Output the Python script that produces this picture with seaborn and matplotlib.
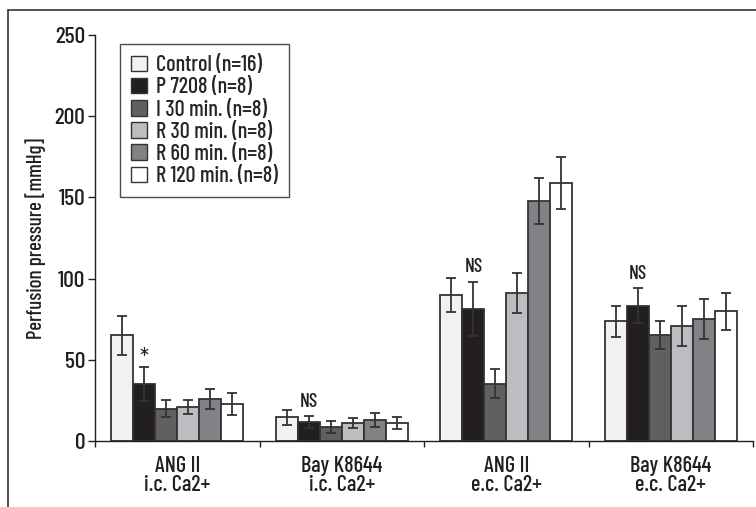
import matplotlib
matplotlib.use("Agg")
import matplotlib.pyplot as plt
import seaborn as sns
import pandas as pd
from matplotlib.lines import Line2D

# ---- data ----
groups = ["ANG II\ni.c. Ca2+", "Bay K8644\ni.c. Ca2+", "ANG II\ne.c. Ca2+", "Bay K8644\ne.c. Ca2+"]
series = ["Control (n=16)", "P 7208 (n=8)", "I 30 min. (n=8)", "R 30 min. (n=8)",
          "R 60 min. (n=8)", "R 120 min. (n=8)"]
control = [65, 14.6, 90, 73.7]
p7208 = [35.3, 11.7, 81.3, 83.3]
i30 = [20, 8.6, 35.3, 65.3]
r30 = [21, 10.9, 91.3, 71]
r60 = [26, 12.7, 147.8, 75.1]
r120 = [22.8, 10.9, 159, 79.9]
control_err = [12, 4.7, 10.5, 9.6]
p7208_err = [10.5, 3.5, 16.8, 10.7]
i30_err = [5.2, 3.5, 8.8, 8.8]
r30_err = [4.2, 3.1, 12.3, 12.3]
r60_err = [6.3, 4.3, 14, 12.2]
r120_err = [7, 3.7, 16, 11.4]
annotations = ["*", "NS", "NS", "NS"]   # above P 7208 bar in each group

colors = ["#f0f1f3", "#231f20", "#606062", "#bcbdc0", "#818285", "#ffffff"]

values = [control, p7208, i30, r30, r60, r120]
errors = [control_err, p7208_err, i30_err, r30_err, r60_err, r120_err]

rows = []
for s, vals in zip(series, values):
    for g, v in zip(groups, vals):
        rows.append({"group": g, "series": s, "value": v})
df = pd.DataFrame(rows)

sns.set_theme(style="white")
plt.rcParams['font.family'] = ['Barlow Condensed', 'DejaVu Sans']
plt.rcParams['font.weight'] = 'medium'
plt.rcParams['axes.labelweight'] = 'medium'

fig = plt.figure(figsize=(7.56, 5.07), dpi=100)
ax = fig.add_axes([95 / 756, 1 - 441 / 507, (753 - 95) / 756, (441 - 35) / 507])

sns.barplot(data=df, x="group", y="value", hue="series", order=groups, hue_order=series,
            palette=colors, edgecolor="#333333", linewidth=1.3, width=0.8, ax=ax,
            errorbar=None, saturation=1, legend=True)

edge = "#333333"
for cont, errs in zip(ax.containers, errors):
    xs = [b.get_x() + b.get_width() / 2 for b in cont]
    hs = [b.get_height() for b in cont]
    ax.errorbar(xs, hs, yerr=errs, fmt="none", ecolor=edge, elinewidth=1.3,
                capsize=3.3, capthick=1.3, zorder=5)

# annotations above P 7208 bars
pcont = ax.containers[1]
for b, v, e, txt in zip(pcont, p7208, p7208_err, annotations):
    x = b.get_x() + b.get_width() / 2
    off = -3 if txt == "*" else 4
    ax.annotate(txt, xy=(x, v + e), xytext=(0, off), textcoords="offset points",
                ha="center", va="bottom", fontsize=18 if txt == "*" else 14,
                fontweight="normal" if txt == "*" else "medium", color="#231f20")

ax.set_ylim(0, 250)
ax.set_xlim(-0.5, 3.5)
ax.set_yticks([0, 50, 100, 150, 200, 250])
ax.tick_params(axis="y", labelsize=17, length=5, width=1, direction="out", left=True,
               colors="#231f20", pad=2)
ax.set_xticks([-0.5, 0.5, 1.5, 2.5, 3.5])
ax.set_xticklabels([])
ax.set_xticks(range(len(groups)), minor=True)
ax.set_xticklabels(groups, minor=True, fontsize=16, linespacing=0.95, color="#231f20")
ax.tick_params(axis="x", which="major", length=4, width=1, direction="out", bottom=True,
               colors="#231f20")
ax.tick_params(axis="x", which="minor", length=0, pad=11)
ax.set_xlabel("")
ax.set_ylabel("Perfusion pressure [mmHg]", fontsize=15, fontweight="medium",
              color="#231f20", labelpad=6)

for side in ["top", "right"]:
    ax.spines[side].set_visible(False)
for side in ["left", "bottom"]:
    ax.spines[side].set_color("#231f20")
    ax.spines[side].set_linewidth(1.0)

leg = ax.legend(loc="upper left", bbox_to_anchor=((120 - 95) / 658, 1 - (44 - 35) / 406),
                frameon=True, fontsize=16, handlelength=0.7, handleheight=0.7,
                handletextpad=0.4, labelspacing=0.1, borderpad=0.5, fancybox=False,
                borderaxespad=0)
leg.get_frame().set_edgecolor("#231f20")
leg.get_frame().set_linewidth(1.0)
for h in leg.legend_handles:
    h.set_edgecolor("#333333")
    h.set_linewidth(1.0)

# outer frame (top and left lines)
fig.add_artist(Line2D([8 / 756, 1.0], [1 - 10 / 507, 1 - 10 / 507], color="#333333", lw=1.2,
                      transform=fig.transFigure))
fig.add_artist(Line2D([8 / 756, 8 / 756], [0, 1 - 10 / 507], color="#333333", lw=1.2,
                      transform=fig.transFigure))

fig.savefig("out.png", dpi=100)
